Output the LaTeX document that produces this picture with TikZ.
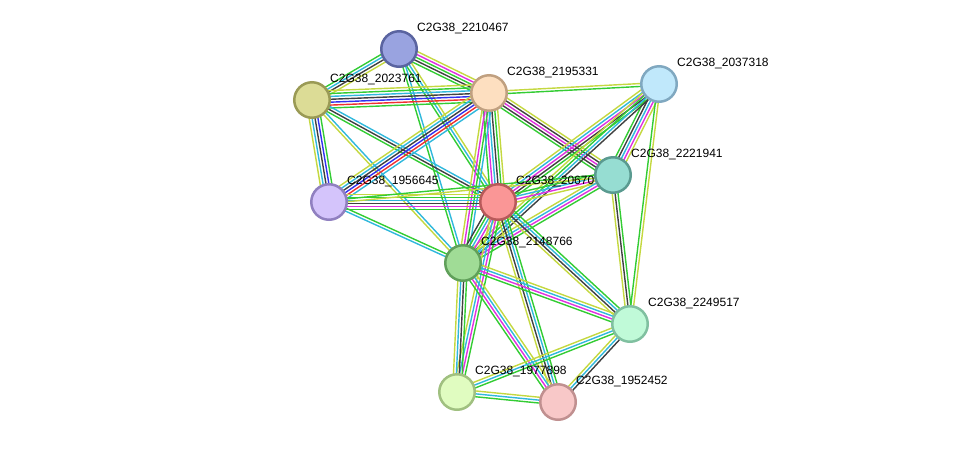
\documentclass[tikz,border=0pt]{standalone}
\usepackage{fontspec}
\setmainfont{Liberation Sans}
\usetikzlibrary{calc}
\definecolor{sgreen}{HTML}{33CC33}
\definecolor{scyan}{HTML}{30B8DC}
\definecolor{sblack}{HTML}{404040}
\definecolor{smag}{HTML}{E030E0}
\definecolor{sred}{HTML}{F03030}
\definecolor{sblue}{HTML}{3030F0}
\definecolor{syg}{HTML}{C4D840}
\tikzset{
  nd/.style={circle, minimum size=35.5pt, inner sep=0pt, line width=2.5pt},
  lbl/.style={anchor=west, inner sep=0pt, font=\fontsize{12}{14}\selectfont, text=black}
}
\newcommand\edg[4]{%
  \foreach \c [count=\i] in {#4} {%
    \pgfmathsetmacro\off{(\i-(#3+1)/2)*2.9}%
    \draw[\c, line width=1.4pt] ($(#1)!\off pt!90:(#2)$) -- ($(#2)!\off pt!-90:(#1)$);
  }%
}
\begin{document}
\begin{tikzpicture}[x=1pt, y=-1pt]
\useasboundingbox (0,0) rectangle (976,448);
% node centres
\coordinate (A) at (399,49);
\coordinate (B) at (312,100);
\coordinate (C) at (489,93);
\coordinate (D) at (659,84);
\coordinate (E) at (613,175);
\coordinate (F) at (329,202);
\coordinate (G) at (498,202);
\coordinate (H) at (463,263);
\coordinate (I) at (630,324);
\coordinate (J) at (457,392);
\coordinate (K) at (558,402);
% edges
\edg{A}{B}{4}{sgreen,scyan,sblack,syg}
\edg{A}{C}{5}{sgreen,sblack,sgreen,smag,syg}
\edg{A}{G}{3}{sgreen,scyan,syg}
\edg{A}{H}{2}{sgreen,scyan}
\edg{B}{C}{7}{sgreen,sred,sblue,sblack,scyan,sgreen,syg}
\edg{B}{F}{5}{syg,scyan,sblack,sblue,sgreen}
\edg{B}{G}{3}{sgreen,sblack,scyan}
\edg{B}{H}{2}{syg,scyan}
\edg{C}{F}{6}{syg,scyan,sblack,sblue,sred,scyan}
\edg{C}{G}{6}{sgreen,smag,scyan,sblack,sgreen,syg}
\edg{C}{H}{4}{syg,smag,sgreen,scyan}
\edg{C}{E}{5}{sgreen,sblack,smag,sblack,syg}
\edg{C}{D}{2}{sgreen,syg}
\edg{D}{E}{5}{sgreen,sblack,scyan,smag,syg}
\edg{D}{G}{5}{syg,scyan,smag,sblack,sgreen}
\edg{D}{H}{4}{syg,sgreen,scyan,sblack}
\edg{D}{I}{2}{sgreen,syg}
\edg{E}{G}{4}{sgreen,scyan,smag,syg}
\edg{E}{H}{4}{syg,scyan,smag,sgreen}
\edg{E}{I}{3}{syg,sblack,sgreen}
\edg{F}{G}{6}{sgreen,smag,sblack,scyan,sgreen,syg}
\edg{F}{E}{2}{syg,sgreen}
\edg{F}{H}{2}{scyan,sgreen}
\edg{G}{H}{5}{sblack,sgreen,scyan,smag,syg}
\edg{G}{I}{4}{syg,sblack,scyan,sgreen}
\edg{G}{J}{4}{syg,scyan,smag,sgreen}
\edg{G}{K}{4}{syg,sblack,scyan,sgreen}
\edg{H}{I}{4}{sgreen,smag,scyan,syg}
\edg{H}{J}{4}{syg,scyan,sblack,sgreen}
\edg{H}{K}{4}{sgreen,smag,scyan,syg}
\edg{I}{J}{3}{syg,scyan,sgreen}
\edg{I}{K}{3}{syg,scyan,sblack}
\edg{J}{K}{3}{sgreen,scyan,syg}
% labels
\node[lbl] (lA) at ($(A)+(18,-21)$) {C2G38\_2210467};
\node[lbl] (lB) at ($(B)+(18,-21)$) {C2G38\_2023761};
\node[lbl] (lC) at ($(C)+(18,-21)$) {C2G38\_2195331};
\node[lbl] (lD) at ($(D)+(18,-21)$) {C2G38\_2037318};
\node[lbl] (lE) at ($(E)+(18,-21)$) {C2G38\_2221941};
\node[lbl] (lF) at ($(F)+(18,-21)$) {C2G38\_1956645};
\node[lbl] (lG) at ($(G)+(18,-21)$) {C2G38\_20670};
\node[lbl] (lH) at ($(H)+(18,-21)$) {C2G38\_2148766};
\node[lbl] (lI) at ($(I)+(18,-21)$) {C2G38\_2249517};
\node[lbl] (lJ) at ($(J)+(18,-21)$) {C2G38\_1977898};
\node[lbl] (lK) at ($(K)+(18,-21)$) {C2G38\_1952452};
% nodes
\node[nd, fill={rgb,255:red,153;green,163;blue,224}, draw={rgb,255:red,90;green,100;blue,160}] (nA) at (A) {};
\node[nd, fill={rgb,255:red,220;green,220;blue,150}, draw={rgb,255:red,154;green,154;blue,85}] (nB) at (B) {};
\node[nd, fill={rgb,255:red,253;green,223;blue,192}, draw={rgb,255:red,192;green,160;blue,128}] (nC) at (C) {};
\node[nd, fill={rgb,255:red,192;green,232;blue,251}, draw={rgb,255:red,128;green,168;blue,192}] (nD) at (D) {};
\node[nd, fill={rgb,255:red,150;green,221;blue,210}, draw={rgb,255:red,90;green,154;blue,144}] (nE) at (E) {};
\node[nd, fill={rgb,255:red,212;green,196;blue,251}, draw={rgb,255:red,144;green,128;blue,192}] (nF) at (F) {};
\node[nd, fill={rgb,255:red,250;green,150;blue,150}, draw={rgb,255:red,184;green,90;blue,90}] (nG) at (G) {};
\node[nd, fill={rgb,255:red,160;green,220;blue,150}, draw={rgb,255:red,96;green,160;blue,90}] (nH) at (H) {};
\node[nd, fill={rgb,255:red,192;green,250;blue,216}, draw={rgb,255:red,128;green,192;blue,160}] (nI) at (I) {};
\node[nd, fill={rgb,255:red,224;green,252;blue,192}, draw={rgb,255:red,160;green,192;blue,128}] (nJ) at (J) {};
\node[nd, fill={rgb,255:red,248;green,200;blue,200}, draw={rgb,255:red,192;green,144;blue,144}] (nK) at (K) {};
\end{tikzpicture}
\end{document}
